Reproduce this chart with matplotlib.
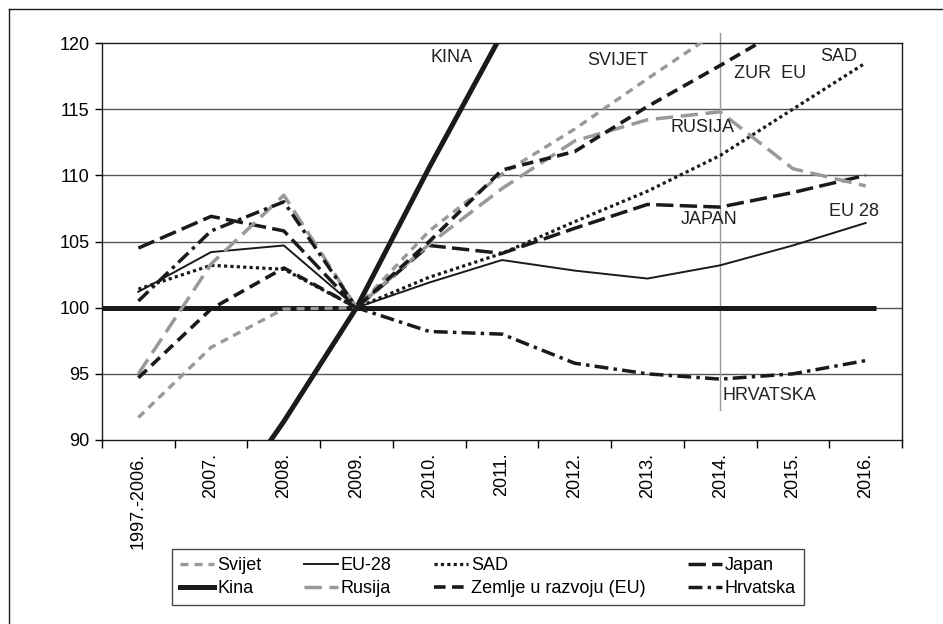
import matplotlib
matplotlib.use('Agg')
import matplotlib.pyplot as plt
from matplotlib.lines import Line2D

plt.rcParams['font.family'] = ['Liberation Sans', 'DejaVu Sans']

godine = ['1997.-2006.', '2007.', '2008.', '2009.', '2010.', '2011.',
          '2012.', '2013.', '2014.', '2015.', '2016.']

svijet = [91.7, 97.0, 99.9, 100, 105.8, 110.1, 113.5, 117.3, 121.0, 124.5, 128.0]
eu28 = [101.2, 104.2, 104.7, 100, 101.9, 103.6, 102.8, 102.2, 103.2, 104.7, 106.4]
sad = [101.4, 103.2, 102.9, 100, 102.3, 104.1, 106.5, 108.8, 111.5, 115.0, 118.5]
japan = [104.5, 106.9, 105.8, 100, 104.7, 104.1, 106.0, 107.8, 107.6, 108.7, 110.0]
kina = [76.0, 83.5, 91.4, 100, 110.6, 120.7, 130.5, 140.5, 150.5, 160.5, 170.5]
rusija = [95.0, 103.3, 108.5, 100, 104.8, 109.0, 112.6, 114.2, 114.8, 110.5, 109.2]
zemlje = [94.7, 99.9, 103.0, 100, 105.0, 110.4, 111.8, 115.2, 118.3, 121.5, 124.5]
hrvatska = [100.5, 105.8, 108.0, 100, 98.2, 98.0, 95.8, 95.0, 94.6, 95.0, 96.0]

x = list(range(len(godine)))

fig = plt.figure(figsize=(9.43, 6.24), dpi=100)
ax = fig.add_axes([102 / 943, 1 - 440 / 624, 800 / 943, 397 / 624])

for yv in [95, 100, 105, 110, 115]:
    ax.axhline(yv, color='#555555', lw=1, zorder=1)

ax.hlines(100, -0.5, 10.14, color='#1a1a1a', lw=3.6, zorder=2)
ax.plot([8, 8], [120.76, 92.26], color='#999999', lw=1, clip_on=False, zorder=1)

ln_svijet, = ax.plot(x, svijet, color='#999999', lw=2.4, ls=(0, (2.4, 1.8)), label='Svijet', zorder=3)
ln_eu28, = ax.plot(x, eu28, color='#1a1a1a', lw=1.4, ls='-', label='EU-28', zorder=3)
ln_sad, = ax.plot(x, sad, color='#1a1a1a', lw=2.3, ls=(0, (1, 1)), label='SAD', zorder=3)
ln_japan, = ax.plot(x, japan, color='#1a1a1a', lw=2.5, ls=(0, (5, 1.8)), label='Japan', zorder=3)
ln_kina, = ax.plot(x, kina, color='#1a1a1a', lw=3.6, ls='-', label='Kina', zorder=3)
ln_rusija, = ax.plot(x, rusija, color='#999999', lw=2.5, ls=(0, (5, 2.2)), label='Rusija', zorder=3)
ln_zemlje, = ax.plot(x, zemlje, color='#1a1a1a', lw=2.6, ls=(0, (3.2, 1.8)), label='Zemlje u razvoju (EU)', zorder=3)
ln_hrv, = ax.plot(x, hrvatska, color='#1a1a1a', lw=2.5, ls=(0, (4, 1.5, 1, 1.5)), label='Hrvatska', zorder=3)

ax.set_xlim(-0.5, 10.5)
ax.set_ylim(90, 120)
ax.set_yticks([90, 95, 100, 105, 110, 115, 120])
ax.tick_params(axis='y', labelsize=13, length=5, width=1, direction='out', pad=4)
ax.set_xticks(x)
ax.set_xticklabels(godine, rotation=90, fontsize=13)
ax.tick_params(axis='x', which='major', length=0, pad=9)
ax.set_xticks([i - 0.5 for i in range(len(godine) + 1)], minor=True)
ax.tick_params(axis='x', which='minor', length=6, width=1, direction='out')
for s in ax.spines.values():
    s.set_color('#1a1a1a')
    s.set_linewidth(1)

oznake = [('KINA', 4.30, 118.9), ('SVIJET', 6.59, 118.7), ('ZUR  EU', 8.68, 117.7),
          ('SAD', 9.63, 119.0), ('RUSIJA', 7.75, 113.65), ('JAPAN', 7.85, 106.7),
          ('EU 28', 9.84, 107.3), ('HRVATSKA', 8.67, 93.4)]
for txt, tx, ty in oznake:
    ax.text(tx, ty, txt, fontsize=13, color='#222222', ha='center', va='center', zorder=4)

handles = [ln_svijet, ln_kina, ln_eu28, ln_rusija, ln_sad, ln_zemlje, ln_japan, ln_hrv]
leg = fig.legend(handles=handles, labels=[h.get_label() for h in handles], ncol=4,
                 loc='lower left', mode='expand',
                 bbox_to_anchor=(172 / 943, 1 - 605 / 624, 632 / 943, 62 / 624),
                 fontsize=13, frameon=True, fancybox=False, edgecolor='#1a1a1a',
                 handlelength=1.9, handletextpad=0.15, columnspacing=1.0,
                 borderaxespad=0.0, borderpad=0.45, labelspacing=0.3)
leg.get_frame().set_linewidth(1)

# okvir slike (samo lijevo i gore)
fig.add_artist(Line2D([9 / 943, 9 / 943], [0, 1 - 9 / 624], color='#1a1a1a', lw=1))
fig.add_artist(Line2D([9 / 943, 1], [1 - 9 / 624, 1 - 9 / 624], color='#1a1a1a', lw=1))

plt.savefig('out.png', dpi=100)
